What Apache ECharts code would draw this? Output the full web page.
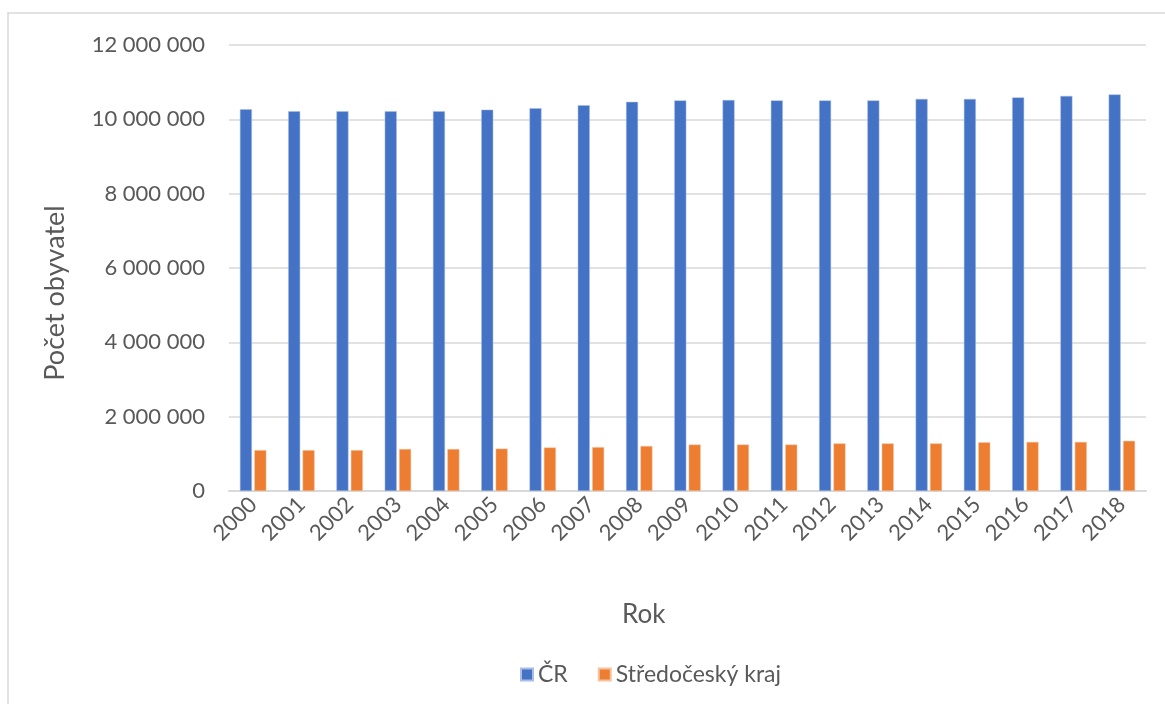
<!DOCTYPE html>
<html>
<head>
<meta charset="utf-8">
<script src="https://cdn.jsdelivr.net/npm/echarts@6/dist/echarts.min.js"></script>
<style>
html, body { margin: 0; padding: 0; background: #fff; }
#main { width: 1165px; height: 704px; }
</style>
</head>
<body>
<div id="main"></div>
<script>
// roky
var years = ['2000','2001','2002','2003','2004','2005','2006','2007','2008','2009',
	'2010','2011','2012','2013','2014','2015','2016','2017','2018'];
// pocet obyvatel CR
var cr = [10270000, 10220000, 10220000, 10220000, 10220000, 10260000, 10300000, 10380000, 10470000, 10510000,
	10520000, 10510000, 10510000, 10510000, 10550000, 10550000, 10590000, 10630000, 10670000];
// pocet obyvatel Stredocesky kraj
var stc = [1100000, 1100000, 1100000, 1130000, 1130000, 1140000, 1170000, 1180000, 1210000, 1250000,
	1250000, 1250000, 1280000, 1280000, 1280000, 1310000, 1320000, 1320000, 1350000];
var yTicks = [0, 2000000, 4000000, 6000000, 8000000, 10000000, 12000000];

var font = 'Lato, "Open Sans", sans-serif';
var textColor = '#595959';

function fmt(v) {
	return String(v).replace(/\B(?=(\d{3})+(?!\d))/g, ' ');
}

var myChart = echarts.init(document.getElementById('main'));
var option = {
	backgroundColor: '#fff',
	animation: false,
	textStyle: { fontFamily: font },
	graphic: [{
		type: 'rect',
		shape: { x: 8, y: 13, width: 1300, height: 900 },
		style: { fill: 'none', stroke: '#d9d9d9', lineWidth: 1.5 },
		silent: true
	}],
	title: {
		text: 'Rok',
		left: 617,
		top: 597,
		textStyle: { fontFamily: font, fontSize: 26, fontWeight: 'normal', color: textColor }
	},
	legend: {
		data: ['ČR', 'Středočeský kraj'],
		left: 515,
		top: 658,
		itemWidth: 12,
		itemHeight: 12,
		itemGap: 30,
		icon: 'rect',
		textStyle: { fontFamily: font, fontSize: 23, color: textColor }
	},
	grid: {
		left: 229,
		right: 19,
		top: 45,
		bottom: 213,
		containLabel: false
	},
	xAxis: {
		type: 'category',
		data: years,
		axisLine: { lineStyle: { color: '#d9d9d9', width: 2 } },
		axisTick: { show: false },
		axisLabel: {
			rotate: 45,
			fontSize: 22,
			color: textColor,
			margin: 10,
			interval: 0
		}
	},
	yAxis: {
		type: 'value',
		min: yTicks[0],
		max: yTicks[yTicks.length - 1],
		interval: 2000000,
		name: 'Počet obyvatel',
		nameLocation: 'middle',
		nameGap: 160,
		nameTextStyle: { fontFamily: font, fontSize: 27, color: textColor, padding: [0, 50, 0, 0] },
		axisLine: { show: false },
		axisTick: { show: false },
		axisLabel: {
			fontSize: 22,
			color: textColor,
			margin: 24,
			formatter: function (v) { return fmt(v); }
		},
		splitLine: { lineStyle: { color: '#d9d9d9', width: 1.5 } }
	},
	series: [{
		name: 'ČR',
		type: 'bar',
		data: cr,
		barWidth: 12,
		barGap: '20%',
		itemStyle: { color: '#4472C4', borderColor: '#a9bde6', borderWidth: 0.5 }
	}, {
		name: 'Středočeský kraj',
		type: 'bar',
		data: stc,
		barWidth: 12,
		itemStyle: { color: '#ED7D31', borderColor: '#f7c2a0', borderWidth: 0.5 }
	}]
};
myChart.setOption(option);
</script>
</body>
</html>
